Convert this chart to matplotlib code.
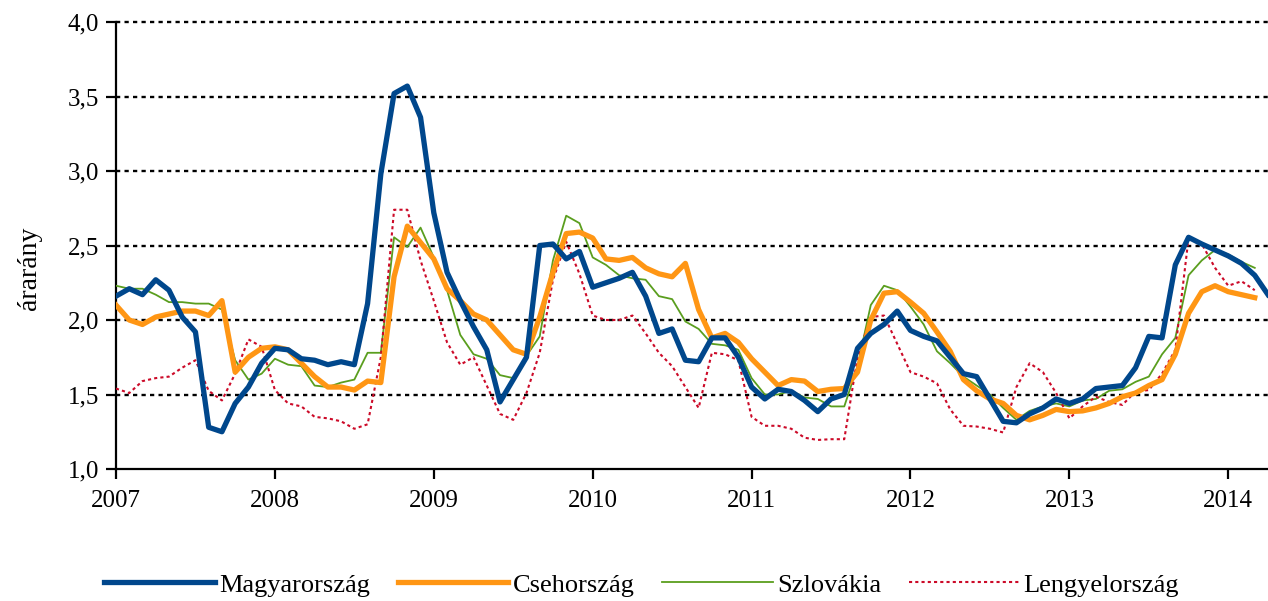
import numpy as np
import matplotlib
matplotlib.use('Agg')
import matplotlib.pyplot as plt

plt.rcParams['font.family'] = ['Liberation Serif', 'DejaVu Serif']

# havi adatok 2007 januártól
magyar = [2.16, 2.21, 2.17, 2.27, 2.20, 2.02, 1.92, 1.28, 1.25, 1.44, 1.55, 1.71,
          1.81, 1.80, 1.74, 1.73, 1.70, 1.72, 1.70, 2.11, 2.98, 3.52, 3.57, 3.36,
          2.72, 2.32, 2.13, 1.955, 1.80, 1.45, 1.60, 1.75, 2.50, 2.51, 2.41, 2.46,
          2.22, 2.25, 2.28, 2.32, 2.16, 1.91, 1.94, 1.73, 1.72, 1.88, 1.88, 1.75,
          1.55, 1.47, 1.535, 1.52, 1.46, 1.385, 1.47, 1.50, 1.81, 1.91, 1.97, 2.06,
          1.93, 1.89, 1.86, 1.75, 1.64, 1.62, 1.47, 1.32, 1.31, 1.37, 1.41, 1.47,
          1.44, 1.47, 1.54, 1.55, 1.56, 1.68, 1.89, 1.88, 2.37, 2.555, 2.51, 2.47,
          2.43, 2.38, 2.30, 2.17]
cseh = [2.10, 2.00, 1.97, 2.02, 2.04, 2.06, 2.06, 2.03, 2.13, 1.65, 1.75, 1.81,
        1.82, 1.80, 1.71, 1.62, 1.55, 1.55, 1.53, 1.59, 1.58, 2.29, 2.63, 2.52,
        2.41, 2.21, 2.13, 2.04, 2.00, 1.90, 1.80, 1.77, 2.02, 2.32, 2.58, 2.59,
        2.55, 2.41, 2.40, 2.42, 2.35, 2.31, 2.29, 2.38, 2.07, 1.88, 1.91, 1.85,
        1.74, 1.65, 1.56, 1.60, 1.59, 1.52, 1.535, 1.54, 1.65, 2.00, 2.18, 2.19,
        2.12, 2.045, 1.92, 1.79, 1.60, 1.525, 1.47, 1.44, 1.36, 1.33, 1.36, 1.40,
        1.385, 1.39, 1.41, 1.44, 1.485, 1.51, 1.56, 1.60, 1.77, 2.045, 2.19, 2.23,
        2.19, 2.17, 2.15]
szlovak = [2.23, 2.21, 2.21, 2.17, 2.12, 2.12, 2.11, 2.11, 2.07, 1.73, 1.60, 1.64,
           1.74, 1.70, 1.69, 1.56, 1.55, 1.58, 1.60, 1.78, 1.78, 2.555, 2.49, 2.62,
           2.42, 2.20, 1.90, 1.77, 1.74, 1.63, 1.61, 1.76, 1.89, 2.40, 2.70, 2.65,
           2.42, 2.37, 2.30, 2.28, 2.27, 2.16, 2.14, 1.99, 1.94, 1.84, 1.83, 1.80,
           1.61, 1.50, 1.50, 1.525, 1.48, 1.47, 1.42, 1.42, 1.69, 2.10, 2.23, 2.20,
           2.09, 1.97, 1.79, 1.71, 1.62, 1.56, 1.50, 1.41, 1.33, 1.39, 1.42, 1.44,
           1.42, 1.46, 1.47, 1.525, 1.535, 1.585, 1.62, 1.77, 1.88, 2.30, 2.40, 2.47,
           2.44, 2.39, 2.35]
lengyel = [1.54, 1.51, 1.59, 1.61, 1.62, 1.68, 1.73, 1.525, 1.46, 1.64, 1.87, 1.82,
           1.53, 1.44, 1.42, 1.35, 1.34, 1.32, 1.27, 1.30, 1.75, 2.74, 2.74, 2.40,
           2.13, 1.85, 1.70, 1.75, 1.56, 1.37, 1.33, 1.51, 1.78, 2.27, 2.525, 2.31,
           2.03, 2.00, 2.00, 2.03, 1.91, 1.78, 1.69, 1.55, 1.41, 1.78, 1.77, 1.73,
           1.35, 1.29, 1.29, 1.27, 1.21, 1.195, 1.20, 1.20, 1.75, 2.02, 2.03, 1.84,
           1.65, 1.62, 1.575, 1.40, 1.29, 1.285, 1.27, 1.245, 1.55, 1.71, 1.65, 1.51,
           1.34, 1.42, 1.485, 1.45, 1.43, 1.52, 1.53, 1.64, 1.80, 2.55, 2.51, 2.35,
           2.23, 2.26, 2.20]

years = list(range(2007, 2015))
yticks = [1.0, 1.5, 2.0, 2.5, 3.0, 3.5, 4.0]


def months(vals):
    return 2007 + np.arange(len(vals)) / 12.0


fig = plt.figure(figsize=(12.68, 6.01), dpi=100)
ax = fig.add_axes([116 / 1268, 132 / 601, 1152 / 1268, 447 / 601])

for y in yticks[1:]:
    ax.axhline(y, color='black', lw=1.7, linestyle=(0, (1.8, 1.8)), zorder=1, clip_on=False)

ax.plot(months(magyar), magyar, color='#00478C', lw=3.8, label='Magyarország', zorder=5)
ax.plot(months(cseh), cseh, color='#FF9614', lw=3.8, label='Csehország', zorder=4)
ax.plot(months(szlovak), szlovak, color='#5A9E1E', lw=1.3, label='Szlovákia', zorder=3)
ax.plot(months(lengyel), lengyel, color='#CC0A28', lw=1.5, linestyle=(0, (1.5, 1.5)),
        label='Lengyelország', zorder=3)

ax.set_xlim(2007, 2007 + 87 / 12)
ax.set_ylim(1.0, 4.0)
ax.set_xticks(years)
ax.set_xticklabels([str(y) for y in years])
ax.set_yticks(yticks)
ax.set_yticklabels([f'{y:.1f}'.replace('.', ',') for y in yticks])

for s in ['top', 'right']:
    ax.spines[s].set_visible(False)
for s in ['left', 'bottom']:
    ax.spines[s].set_linewidth(1.6)
ax.tick_params(axis='both', direction='out', length=7, width=1.6, labelsize=18)
ax.tick_params(axis='y', pad=5)
ax.tick_params(axis='x', pad=8)
ax.set_ylabel('árarány', fontsize=20)
ax.yaxis.set_label_coords(-0.064, 0.45)

fig.legend(loc='center', bbox_to_anchor=(0.506, 0.027), ncol=4, frameon=False,
           fontsize=19, handlelength=4.2, handletextpad=0.15, columnspacing=1.05)

fig.savefig('out.png', dpi=100)
